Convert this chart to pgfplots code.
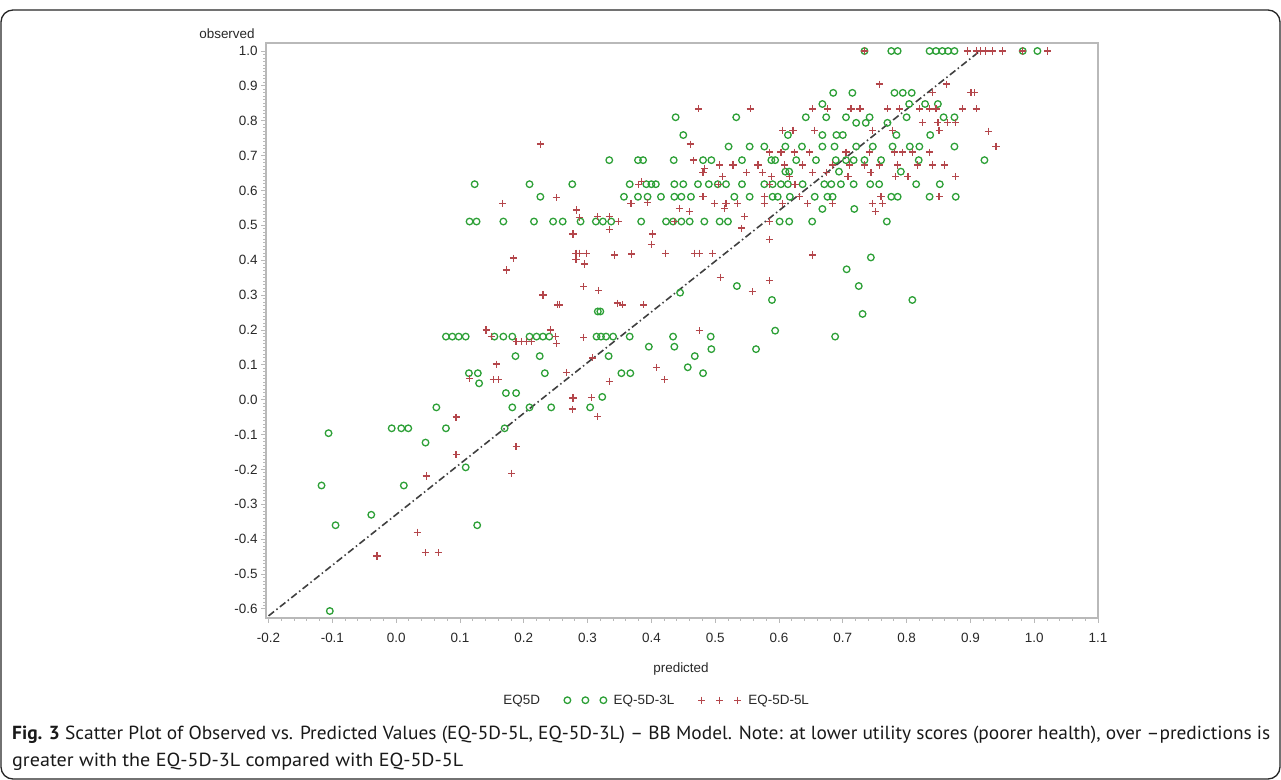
\documentclass[border=0pt]{standalone}
\usepackage{pgfplots}
\pgfplotsset{compat=1.18}
\usepackage{fontspec}
\setmainfont{Liberation Sans}
\newfontfamily\capfont{PT Sans}
\usepackage{graphicx}
\definecolor{grn}{RGB}{45,160,55}
\definecolor{rd}{RGB}{180,70,75}
\definecolor{axgray}{RGB}{185,185,185}
\definecolor{txt}{RGB}{40,40,40}
\pgfplotsset{
  threemarks/.style={legend image code/.code={\draw[##1] plot coordinates {(0bp,0bp) (18bp,0bp) (36bp,0bp)};}}
}
\begin{document}
\begin{tikzpicture}[x=1bp,y=1bp]
\useasboundingbox (0,0) rectangle (1281,780);
\draw[line width=1.3bp, rounded corners=12bp, black!85] (1,1) rectangle (1280,770);
\begin{axis}[
  at={(266bp,162bp)}, anchor=south west, scale only axis,
  width=832bp, height=575bp,
  xmin=-0.204, xmax=1.1, ymin=-0.626, ymax=1.023,
  axis line style={axgray, line width=1.2bp},
  xtick={-0.2,-0.1,0,0.1,0.2,0.3,0.4,0.5,0.6,0.7,0.8,0.9,1.0,1.1},
  ytick={-0.6,-0.5,-0.4,-0.3,-0.2,-0.1,0,0.1,0.2,0.3,0.4,0.5,0.6,0.7,0.8,0.9,1.0},
  minor x tick num=4, minor y tick num=9,
  tick align=outside, xtick pos=bottom, ytick pos=left,
  major tick length=5bp, minor tick length=3bp,
  tick style={axgray, line width=0.9bp},
  every tick label/.append style={font=\fontsize{13.5}{16}\selectfont, text=txt},
  xticklabel style={yshift=-7bp},
  /pgf/number format/fixed, /pgf/number format/fixed zerofill,
  /pgf/number format/precision=1, /pgf/number format/assume math mode=true,
  clip=false,
  legend style={at={(0.466,-0.143)}, anchor=center, draw=none, fill=none,
    font=\fontsize{13.5}{16}\selectfont, text=txt, legend columns=3,
    /tikz/every odd column/.append style={column sep=5bp},
    /tikz/every even column/.append style={column sep=22bp}},
]
\addlegendimage{empty legend}
\addlegendentry{EQ5D}
\addplot[only marks, mark=o, mark size=3.3bp, grn, line width=1.3bp, threemarks]
table {
x y
0.734 1.0
0.776 1.0
0.786 1.0
0.836 1.0
0.846 1.0
0.856 1.0
0.865 1.0
0.875 1.0
0.982 1.0
1.005 1.0
0.685 0.88
0.715 0.88
0.781 0.88
0.794 0.88
0.808 0.88
0.668 0.848
0.804 0.848
0.829 0.848
0.849 0.848
0.438 0.81
0.533 0.81
0.642 0.81
0.674 0.81
0.705 0.81
0.742 0.81
0.800 0.81
0.858 0.81
0.875 0.81
0.721 0.794
0.736 0.794
0.770 0.794
0.450 0.759
0.614 0.759
0.668 0.759
0.690 0.759
0.700 0.759
0.784 0.759
0.837 0.759
0.521 0.726
0.554 0.726
0.577 0.726
0.610 0.726
0.636 0.726
0.668 0.726
0.687 0.726
0.721 0.726
0.747 0.726
0.778 0.726
0.805 0.726
0.820 0.726
0.875 0.726
0.334 0.687
0.379 0.687
0.387 0.687
0.435 0.687
0.481 0.687
0.494 0.687
0.542 0.687
0.588 0.687
0.594 0.687
0.627 0.687
0.658 0.687
0.689 0.687
0.705 0.687
0.717 0.687
0.734 0.687
0.760 0.687
0.819 0.687
0.922 0.687
0.610 0.654
0.616 0.654
0.694 0.654
0.791 0.654
0.123 0.618
0.209 0.618
0.276 0.618
0.366 0.618
0.392 0.618
0.400 0.618
0.407 0.618
0.436 0.618
0.450 0.618
0.473 0.618
0.490 0.618
0.504 0.618
0.517 0.618
0.542 0.618
0.577 0.618
0.590 0.618
0.603 0.618
0.614 0.618
0.637 0.618
0.671 0.618
0.682 0.618
0.697 0.618
0.717 0.618
0.743 0.618
0.757 0.618
0.815 0.618
0.852 0.618
0.226 0.582
0.357 0.582
0.379 0.582
0.394 0.582
0.415 0.582
0.436 0.582
0.447 0.582
0.462 0.582
0.530 0.582
0.554 0.582
0.590 0.582
0.598 0.582
0.617 0.582
0.656 0.582
0.676 0.582
0.684 0.582
0.776 0.582
0.786 0.582
0.836 0.582
0.877 0.582
0.668 0.547
0.718 0.547
0.115 0.511
0.126 0.511
0.168 0.511
0.216 0.511
0.246 0.511
0.261 0.511
0.289 0.511
0.313 0.511
0.324 0.511
0.337 0.511
0.384 0.511
0.423 0.511
0.434 0.511
0.447 0.511
0.460 0.511
0.483 0.511
0.507 0.511
0.520 0.511
0.601 0.511
0.616 0.511
0.652 0.511
0.769 0.511
0.744 0.408
0.706 0.374
0.534 0.326
0.725 0.326
0.445 0.307
0.589 0.286
0.809 0.286
0.316 0.253
0.320 0.253
0.731 0.246
0.594 0.198
0.078 0.181
0.088 0.181
0.098 0.181
0.109 0.181
0.154 0.181
0.168 0.181
0.182 0.181
0.209 0.181
0.220 0.181
0.230 0.181
0.240 0.181
0.314 0.181
0.321 0.181
0.329 0.181
0.340 0.181
0.366 0.181
0.434 0.181
0.493 0.181
0.688 0.181
0.396 0.152
0.436 0.152
0.494 0.145
0.564 0.145
0.187 0.125
0.225 0.125
0.333 0.125
0.468 0.125
0.457 0.093
0.114 0.076
0.128 0.076
0.233 0.076
0.353 0.076
0.367 0.076
0.481 0.076
0.130 0.047
0.172 0.019
0.188 0.019
0.323 0.008
0.063 -0.022
0.182 -0.022
0.209 -0.022
0.243 -0.022
0.304 -0.022
-0.106 -0.096
-0.007 -0.082
0.008 -0.082
0.019 -0.082
0.078 -0.082
0.170 -0.082
0.046 -0.123
0.109 -0.194
-0.117 -0.246
0.012 -0.246
-0.039 -0.330
-0.095 -0.360
0.127 -0.360
-0.104 -0.606
};
\addlegendentry{EQ-5D-3L}
\addplot[only marks, mark=+, mark size=3.6bp, rd, line width=1.3bp, threemarks]
table {
x y
0.734 1.0
0.895 1.0
0.909 1.0
0.916 1.0
0.924 1.0
0.935 1.0
0.950 1.0
0.982 1.0
1.021 1.0
0.757 0.905
0.862 0.905
0.841 0.88
0.901 0.88
0.906 0.88
0.474 0.834
0.555 0.834
0.653 0.834
0.676 0.834
0.713 0.834
0.727 0.834
0.770 0.834
0.789 0.834
0.820 0.834
0.836 0.834
0.846 0.834
0.888 0.834
0.909 0.834
0.825 0.794
0.849 0.794
0.864 0.794
0.877 0.794
0.606 0.773
0.622 0.773
0.656 0.773
0.747 0.773
0.778 0.773
0.851 0.773
0.928 0.770
0.226 0.733
0.461 0.733
0.940 0.727
0.585 0.710
0.603 0.710
0.624 0.710
0.648 0.710
0.705 0.710
0.742 0.710
0.781 0.710
0.794 0.710
0.809 0.710
0.836 0.710
0.466 0.687
0.483 0.664
0.507 0.673
0.528 0.673
0.567 0.673
0.609 0.673
0.637 0.673
0.684 0.673
0.711 0.673
0.734 0.673
0.757 0.673
0.786 0.673
0.817 0.673
0.841 0.673
0.859 0.673
0.512 0.640
0.588 0.640
0.616 0.640
0.708 0.640
0.783 0.640
0.802 0.640
0.877 0.640
0.384 0.625
0.481 0.652
0.549 0.652
0.574 0.652
0.653 0.652
0.674 0.652
0.744 0.652
0.380 0.618
0.505 0.618
0.585 0.618
0.625 0.618
0.251 0.580
0.481 0.582
0.577 0.582
0.632 0.582
0.760 0.582
0.851 0.582
0.167 0.563
0.368 0.563
0.394 0.566
0.499 0.563
0.517 0.563
0.535 0.563
0.577 0.563
0.606 0.563
0.645 0.563
0.684 0.563
0.746 0.563
0.762 0.563
0.283 0.544
0.444 0.549
0.515 0.549
0.460 0.539
0.546 0.525
0.751 0.539
0.287 0.523
0.316 0.525
0.334 0.525
0.349 0.511
0.436 0.511
0.585 0.511
0.541 0.492
0.334 0.489
0.277 0.475
0.402 0.475
0.585 0.460
0.400 0.446
0.282 0.420
0.287 0.420
0.298 0.420
0.342 0.415
0.369 0.418
0.422 0.420
0.468 0.420
0.475 0.420
0.496 0.420
0.653 0.415
0.184 0.406
0.282 0.403
0.295 0.389
0.173 0.372
0.508 0.351
0.585 0.341
0.294 0.324
0.317 0.313
0.558 0.310
0.230 0.300
0.253 0.272
0.256 0.272
0.347 0.277
0.355 0.272
0.388 0.272
0.141 0.200
0.242 0.200
0.475 0.198
0.149 0.181
0.294 0.179
0.250 0.181
0.188 0.167
0.196 0.167
0.204 0.167
0.212 0.167
0.251 0.162
0.308 0.120
0.157 0.102
0.408 0.093
0.267 0.078
0.115 0.061
0.152 0.058
0.160 0.057
0.421 0.058
0.334 0.053
0.277 0.005
0.306 0.006
0.276 -0.027
0.316 -0.049
0.094 -0.050
0.188 -0.135
0.094 -0.158
0.181 -0.211
0.047 -0.219
0.033 -0.380
0.046 -0.439
0.066 -0.439
-0.030 -0.448
};
\addlegendentry{EQ-5D-5L}
\addplot[forget plot, black!75, line width=1.6bp,
  dash pattern=on 7bp off 3bp on 1.5bp off 3bp] coordinates {(-0.2,-0.62) (0.915,1.0)};
\end{axis}
\node[font=\fontsize{13.5}{16}\selectfont, text=txt] at (227,746) {observed};
\node[font=\fontsize{13.5}{16}\selectfont, text=txt] at (681,111) {predicted};
\node[anchor=base west, inner sep=0pt, text=black!90] at (12,40) {\resizebox{1258bp}{\height}{\fontsize{19}{22}\capfont\selectfont\textbf{Fig. 3} Scatter Plot of Observed vs. Predicted Values (EQ-5D-5L, EQ-5D-3L) – BB Model. Note: at lower utility scores (poorer health), over –predictions is}};
\node[anchor=base west, inner sep=0pt, text=black!90] at (12,13) {\resizebox{451bp}{\height}{\fontsize{19}{22}\capfont\selectfont greater with the EQ-5D-3L compared with EQ-5D-5L}};
\end{tikzpicture}
\end{document}
